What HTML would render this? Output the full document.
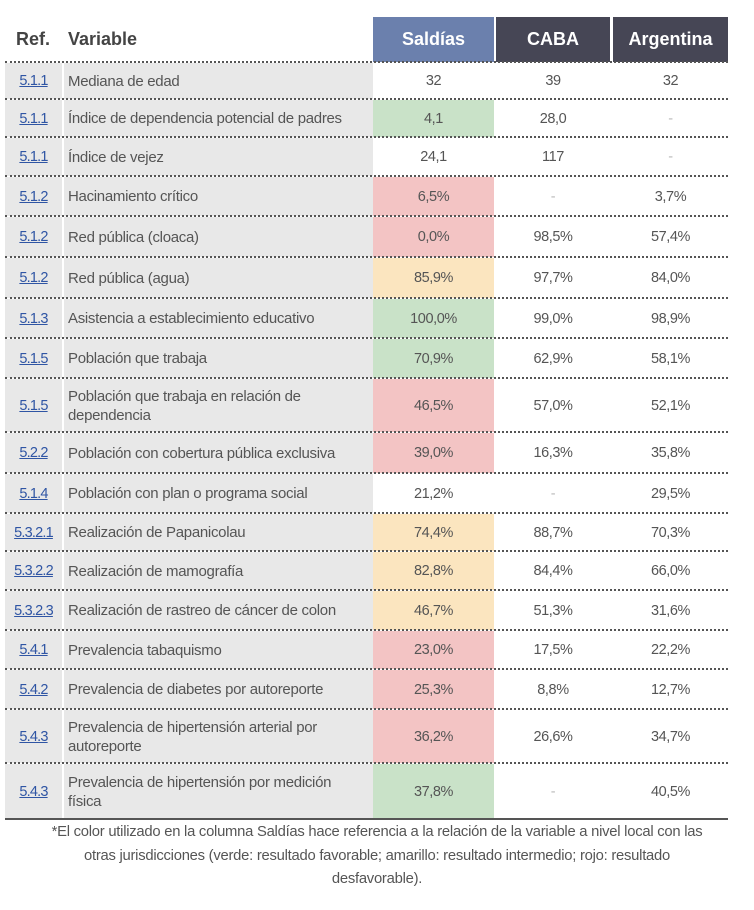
<!DOCTYPE html>
<html><head><meta charset="utf-8">
<style>
body{margin:0;width:754px;height:910px;background:#fff;position:relative;overflow:hidden;font-family:"Liberation Sans Narrow","Liberation Sans",sans-serif;color:#555;}
.a{position:absolute;box-sizing:border-box;display:flex;align-items:center;}
.c{justify-content:center;text-align:center;}
.ref{color:#2f55a4;text-decoration:underline;font-size:14.5px;letter-spacing:-0.8px;justify-content:center;}
.var{font-size:15px;line-height:19px;padding-left:4px;padding-right:14px;color:#555;letter-spacing:-0.3px;}
.val{font-size:14.5px;color:#555;letter-spacing:-0.4px;}
.hd{font-family:"Liberation Sans",sans-serif;font-weight:bold;font-size:18px;}
.dot{position:absolute;left:5px;width:723px;height:0;border-top:2px dotted #555;}
#foot{position:absolute;left:0px;width:754px;top:821px;font-size:14.8px;line-height:23.5px;text-align:center;color:#555;letter-spacing:-0.25px;white-space:nowrap;}
</style></head><body>
<div class="a hd" style="left:16px;top:17px;height:44px;color:#444;">Ref.</div>
<div class="a hd" style="left:68px;top:17px;height:44px;color:#444;">Variable</div>
<div class="a hd c" style="left:373px;top:17px;width:121px;height:45px;background:#6b80ad;color:#fff;">Saldías</div>
<div class="a hd c" style="left:496px;top:17px;width:114px;height:45px;background:#464655;color:#fff;">CABA</div>
<div class="a hd c" style="left:613px;top:17px;width:115px;height:45px;background:#464655;color:#fff;">Argentina</div>
<div id="rows"></div>
<div id="foot">*El color utilizado en la columna Saldías hace referencia a la relación de la variable a nivel local con las<br>otras jurisdicciones (verde: resultado favorable; amarillo: resultado intermedio; rojo: resultado<br>desfavorable).</div>
<script>
const refs=["5.1.1","5.1.1","5.1.1","5.1.2","5.1.2","5.1.2","5.1.3","5.1.5","5.1.5","5.2.2","5.1.4","5.3.2.1","5.3.2.2","5.3.2.3","5.4.1","5.4.2","5.4.3","5.4.3"];
const variables=["Mediana de edad","Índice de dependencia potencial de padres","Índice de vejez","Hacinamiento crítico","Red pública (cloaca)","Red pública (agua)","Asistencia a establecimiento educativo","Población que trabaja","Población que trabaja en relación de dependencia","Población con cobertura pública exclusiva","Población con plan o programa social","Realización de Papanicolau","Realización de mamografía","Realización de rastreo de cáncer de colon","Prevalencia tabaquismo","Prevalencia de diabetes por autoreporte","Prevalencia de hipertensión arterial por autoreporte","Prevalencia de hipertensión por medición física"];
const saldias=["32","4,1","24,1","6,5%","0,0%","85,9%","100,0%","70,9%","46,5%","39,0%","21,2%","74,4%","82,8%","46,7%","23,0%","25,3%","36,2%","37,8%"];
const caba=["39","28,0","117","-","98,5%","97,7%","99,0%","62,9%","57,0%","16,3%","-","88,7%","84,4%","51,3%","17,5%","8,8%","26,6%","-"];
const argentina=["32","-","-","3,7%","57,4%","84,0%","98,9%","58,1%","52,1%","35,8%","29,5%","70,3%","66,0%","31,6%","22,2%","12,7%","34,7%","40,5%"];
const status=["","g","","r","r","y","g","g","r","r","","y","y","y","r","r","r","g"];
const bounds=[62,99,137,176,216,257,298,338,378,432,473,513,551,590,630,669,709,763,819];
const colors={g:"#c9e2c8",r:"#f3c4c4",y:"#fbe5bf","":"#fff"};
const root=document.getElementById('rows');
function mk(cls,l,t,w,h,txt,bg){const d=document.createElement('div');d.className='a '+cls;d.style.cssText=`left:${l}px;top:${t}px;width:${w}px;height:${h}px;`+(bg?`background:${bg};`:'');d.textContent=txt;root.appendChild(d);return d;}
for(let i=0;i<refs.length;i++){
 const t=bounds[i]+1,h=bounds[i+1]-bounds[i]-1;
 let e;
 e=mk('ref',5,t,57,h,refs[i],'#e8e8e8');
 
 
 e=mk('var',64,t,309,h,variables[i],'#e8e8e8');
 
 
 e=mk('val c',373,t,121,h,saldias[i],colors[status[i]]);
 
 
 e=mk('val c',496,t,114,h,caba[i],null);
 
 
 if(caba[i]==='-')e.style.color='#bbb';
 e=mk('val c',613,t,115,h,argentina[i],null);
 
 
 if(argentina[i]==='-')e.style.color='#bbb';
}
for(let i=0;i<bounds.length;i++){
 const d=document.createElement('div');
 d.className='dot';
 d.style.top=(bounds[i]-1)+'px';
 if(i===bounds.length-1){d.style.borderTop='2px solid #555';}
 
 
 root.appendChild(d);
}
</script>
</body></html>
